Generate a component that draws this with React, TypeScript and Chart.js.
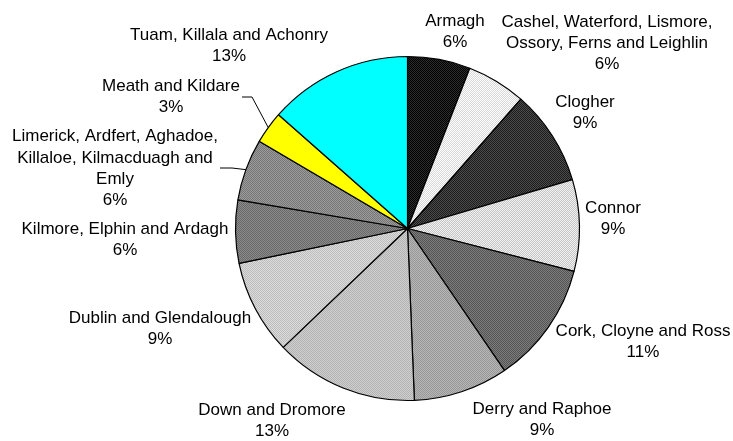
import React, { useEffect, useRef } from "react";
import { Chart, registerables } from "chart.js";

Chart.register(...registerables);

// ---- data ----
const CATEGORIES: string[] = [
  "Armagh",
  "Cashel, Waterford, Lismore, Ossory, Ferns and Leighlin",
  "Clogher",
  "Connor",
  "Cork, Cloyne and Ross",
  "Derry and Raphoe",
  "Down and Dromore",
  "Dublin and Glendalough",
  "Kilmore, Elphin and Ardagh",
  "Limerick, Ardfert, Aghadoe, Killaloe, Kilmacduagh and Emly",
  "Meath and Kildare",
  "Tuam, Killala and Achonry",
];

const SHARES: number[] = [5.9, 5.55, 8.96, 8.6, 11.45, 8.9, 13.49, 8.9, 5.9, 5.8, 3.05, 13.49];

// ---- styles / layout ----
// [base colour, dot colour] for a fine dither texture
const FILLS: [string, string][] = [
  ["#000000", "#2c2c2c"],
  ["#ffffff", "#d8d8d8"],
  ["#1c1c1c", "#4c4c4c"],
  ["#f0f0f0", "#c6c6c6"],
  ["#555555", "#7c7c7c"],
  ["#979797", "#b7b7b7"],
  ["#b2b2b2", "#d0d0d0"],
  ["#bcbcbc", "#dcdcdc"],
  ["#686868", "#8c8c8c"],
  ["#767676", "#9c9c9c"],
  ["#ffff00", "#ffff00"],
  ["#00ffff", "#00ffff"],
];

// label block centre, relative to the pie centre
const LABEL_OFFSETS: [number, number][] = [
  [47.5, -197],
  [199.5, -185],
  [177.5, -115.5],
  [205.5, -9.5],
  [235.5, 113],
  [134.5, 191.5],
  [-135.5, 192.5],
  [-247.5, 100],
  [-282.5, 11],
  [-292.5, -60],
  [-236.5, -131.5],
  [-178.5, -182.5],
];

// leader lines: [startDx, startDy, elbowDx, elbowDy] relative to pie centre
const LEADERS: Record<number, [number, number, number, number]> = {
  9: [-187.5, -60.5, -175.5, -60.5],
  10: [-165.5, -131.5, -155.5, -131.5],
};

const FONT = '17px "Liberation Sans", Arial, sans-serif';
const LINE_H = 21.3;
const WRAP_WIDTH = 215;

function makePattern(base: string, dot: string): CanvasPattern | string {
  if (base === dot) return base;
  const c = document.createElement("canvas");
  c.width = 2;
  c.height = 2;
  const g = c.getContext("2d")!;
  g.fillStyle = base;
  g.fillRect(0, 0, 2, 2);
  g.fillStyle = dot;
  g.fillRect(1, 0, 1, 1);
  g.fillRect(0, 1, 1, 1);
  const p = g.createPattern(c, "repeat");
  return p || base;
}

function wrap(ctx: CanvasRenderingContext2D, text: string, maxW: number): string[] {
  const words = text.split(" ");
  const lines: string[] = [];
  let cur = "";
  for (const w of words) {
    const test = cur ? cur + " " + w : w;
    if (cur && ctx.measureText(test).width > maxW) {
      lines.push(cur);
      cur = w;
    } else {
      cur = test;
    }
  }
  if (cur) lines.push(cur);
  return lines;
}

const labelPlugin = {
  id: "sliceLabels",
  afterDatasetsDraw(chart: any) {
    const ctx: CanvasRenderingContext2D = chart.ctx;
    const meta = chart.getDatasetMeta(0);
    const total = SHARES.reduce((a, b) => a + b, 0);
    ctx.save();
    ctx.font = FONT;
    ctx.fillStyle = "#000";
    ctx.textAlign = "center";
    ctx.textBaseline = "middle";
    meta.data.forEach((arc: any, i: number) => {
      const { x, y, startAngle, endAngle, outerRadius } = arc.getProps(
        ["x", "y", "startAngle", "endAngle", "outerRadius"],
        true
      );
      const lines = wrap(ctx, CATEGORIES[i], WRAP_WIDTH);
      lines.push(Math.round((SHARES[i] / total) * 100) + "%");
      const [dx, dy] = LABEL_OFFSETS[i];
      const cx = x + dx;
      const cy = y + dy;
      const n = lines.length;
      lines.forEach((ln, k) => ctx.fillText(ln, cx, cy + (k - (n - 1) / 2) * LINE_H));
      const leader = LEADERS[i];
      if (leader) {
        const mid = (startAngle + endAngle) / 2;
        ctx.beginPath();
        ctx.moveTo(x + leader[0], y + leader[1]);
        ctx.lineTo(x + leader[2], y + leader[3]);
        ctx.lineTo(x + outerRadius * Math.cos(mid), y + outerRadius * Math.sin(mid));
        ctx.strokeStyle = "#000";
        ctx.lineWidth = 1;
        ctx.stroke();
      }
    });
    ctx.restore();
  },
};

export default function App() {
  const ref = useRef<HTMLCanvasElement | null>(null);

  useEffect(() => {
    if (!ref.current) return;
    const chart = new Chart(ref.current, {
      type: "pie",
      data: {
        labels: CATEGORIES,
        datasets: [
          {
            data: SHARES,
            backgroundColor: FILLS.map(([b, d]) => makePattern(b, d)) as any,
            borderColor: "#000000",
            borderWidth: 1.2,
            hoverOffset: 0,
          },
        ],
      },
      options: {
        responsive: false,
        maintainAspectRatio: false,
        animation: false,
        layout: {
          padding: { left: 234.9, right: 152.9, top: 55.9, bottom: 39.9 },
        },
        plugins: {
          legend: { display: false },
          tooltip: { enabled: false },
        },
      },
      plugins: [labelPlugin],
    });
    return () => chart.destroy();
  }, []);

  return (
    <div
      style={{
        position: "fixed",
        left: 0,
        top: 0,
        width: 733,
        height: 441,
        background: "#ffffff",
      }}
    >
      <canvas ref={ref} width={733} height={441} style={{ display: "block" }} />
    </div>
  );
}
